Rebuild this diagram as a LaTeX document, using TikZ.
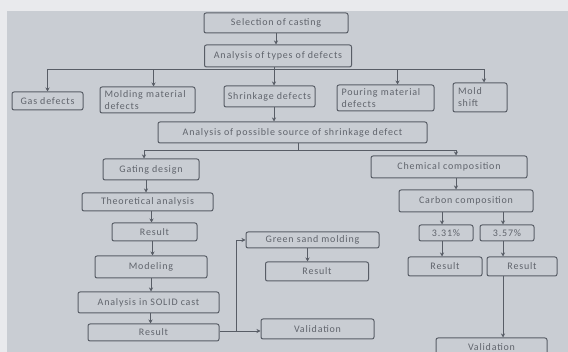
\documentclass[tikz,border=0pt]{standalone}
\usepackage{fontspec}
\setmainfont{Carlito}[LetterSpace=8]
\usetikzlibrary{arrows.meta}
\definecolor{paper}{RGB}{201,205,211}
\definecolor{strip}{RGB}{233,234,237}
\definecolor{ink}{RGB}{88,93,102}
\definecolor{txt}{RGB}{96,100,108}
\tikzset{
  box/.style={draw=ink, line width=1pt, rounded corners=2pt, fill=paper,
    text=txt, font=\fontsize{10}{12}\selectfont, inner sep=1pt},
  lbox/.style={box, align=left},
  arr/.style={draw=ink, line width=0.9pt, -{Stealth[length=4pt,width=4pt]}},
  ln/.style={draw=ink, line width=0.9pt}
}
\begin{document}
\begin{tikzpicture}[x=1pt,y=-1pt]

	% page
	\clip (0,0) rectangle (568,352);
	\fill[strip] (0,0) rectangle (568,352);
	\fill[paper] (7,11) rectangle (568,352);

	% top of the chart
	\node[box, minimum width=144, minimum height=20] (sel) at (276,23) {Selection of casting};
	\node[box, minimum width=147, minimum height=22] (types) at (278,56) {Analysis of types of defects};
	\draw[arr] (sel.south) -- (sel.south |- types.north);

	% types of defects
	\node[box, minimum width=71, minimum height=18] (gas) at (47.5,101) {Gas defects};
	\node[lbox, minimum width=95, minimum height=26, text width=86] (mold) at (147.5,100) {Molding material\\defects};
	\node[box, minimum width=91, minimum height=21] (shrink) at (269.5,96.5) {Shrinkage defects};
	\node[lbox, minimum width=97, minimum height=26, text width=88] (pour) at (385.5,98) {Pouring material\\defects};
	\node[lbox, minimum width=54, minimum height=29, text width=44] (shift) at (480,97.5) {Mold\\shift};
	\coordinate (bus1) at (274,69);
	\draw[ln] (types.south -| bus1) -- (bus1);
	\draw[arr] (bus1) -| (gas);
	\draw[arr] (bus1) -| ([xshift=6]mold.north);
	\draw[arr] (bus1) -- (bus1 |- shrink.north);
	\draw[arr] (bus1) -| ([xshift=12]pour.north);
	\draw[arr] (bus1) -| ([xshift=4]shift.north);

	% source of shrinkage
	\node[box, minimum width=269, minimum height=21] (src) at (292.5,132.5) {Analysis of possible source of shrinkage defect};
	\draw[arr] (bus1 |- shrink.south) -- (bus1 |- src.north);
	\coordinate (bus2) at (298,150);
	\draw[ln] (bus2 |- src.south) -- (bus2);

	% gating design branch
	\node[box, minimum width=96, minimum height=21] (gate) at (151,169.5) {Gating design};
	\node[box, minimum width=131, minimum height=18] (theo) at (147.5,202) {Theoretical analysis};
	\node[box, minimum width=85, minimum height=18] (res1) at (154.5,232) {Result};
	\node[box, minimum width=112, minimum height=22] (model) at (151,267) {Modeling};
	\node[box, minimum width=141, minimum height=21] (solid) at (148.5,302.5) {Analysis in SOLID cast};
	\node[box, minimum width=131, minimum height=17] (res2) at (153.5,332.5) {Result};
	\draw[arr] (bus2) -| ([xshift=-7]gate.north);
	\draw[arr] ([xshift=-5]gate.south) -- ([xshift=-5]gate.south |- theo.north);
	\draw[arr] ([xshift=4]theo.south) -- ([xshift=4]theo.south |- res1.north);
	\draw[arr] ([xshift=-2]res1.south) -- ([xshift=-2]res1.south |- model.north);
	\draw[arr] (model.south) -- (model.south |- solid.north);
	\draw[arr] ([xshift=2]solid.south) -- ([xshift=2]solid.south |- res2.north);

	% green sand and validation
	\node[box, minimum width=133, minimum height=16] (green) at (312.5,240) {Green sand molding};
	\node[box, minimum width=103, minimum height=19] (resg) at (317,271.5) {Result};
	\node[box, minimum width=113, minimum height=20] (val1) at (317.5,329) {Validation};
	\coordinate (fork3) at (236,331);
	\draw[ln] (res2.east |- fork3) -- (fork3);
	\draw[arr] (fork3) |- (green);
	\draw[arr] (fork3) -- (fork3 -| val1.west);
	\draw[arr] ([xshift=-5]green.south) -- ([xshift=-5]green.south |- resg.north);

	% chemical composition branch
	\node[box, minimum width=156, minimum height=22] (chem) at (449,167) {Chemical composition};
	\node[box, minimum width=134, minimum height=22] (carbon) at (466,201) {Carbon composition};
	\node[box, minimum width=54, minimum height=16] (p331) at (446,233) {3.31\%};
	\node[box, minimum width=54, minimum height=16] (p357) at (507,233) {3.57\%};
	\node[box, minimum width=74, minimum height=19] (resa) at (445,266.5) {Result};
	\node[box, minimum width=70, minimum height=19] (resb) at (522,266.5) {Result};
	\node[box, minimum width=111, minimum height=18] (val2) at (491.5,347) {Validation};
	\draw[arr] (bus2) -| ([xshift=7]chem.north);
	\draw[arr] ([xshift=7]chem.south) -- ([xshift=7]chem.south |- carbon.north);
	\draw[arr] ([xshift=-4]p331.north |- carbon.south) -- ([xshift=-4]p331.north);
	\draw[arr] ([xshift=-4]p357.north |- carbon.south) -- ([xshift=-4]p357.north);
	\draw[arr] ([xshift=-4]p331.south) -- ([xshift=-4]p331.south |- resa.north);
	\draw[arr] ([xshift=-4]p357.south) -- ([xshift=-4]p357.south |- resb.north);
	\draw[arr] ([xshift=-4]p357.south |- resb.south) -- ([xshift=-4]p357.south |- val2.north);

\end{tikzpicture}
\end{document}
